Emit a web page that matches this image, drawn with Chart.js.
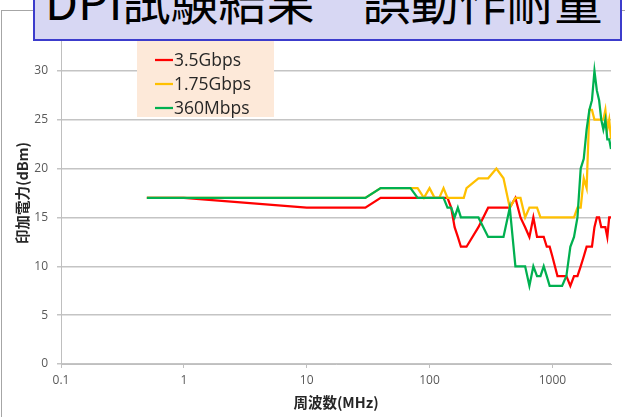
<!DOCTYPE html>
<html><head><meta charset="utf-8">
<script src="https://cdn.jsdelivr.net/npm/chart.js@4"></script>
<style>
html,body{margin:0;padding:0;background:#fff;}
#wrap{position:relative;width:625px;height:417px;overflow:hidden;background:#fff;}
#c{position:absolute;left:0;top:0;}
#frame{position:absolute;left:1px;top:10px;width:700px;height:500px;border-left:1px solid #a6a6a6;border-top:1px solid #a6a6a6;pointer-events:none;}
#title{position:absolute;left:33px;top:-20px;width:585px;height:57px;border:2px solid #3c3ccc;background:#d7d7f3;overflow:hidden;}
#title span{position:absolute;left:10px;top:-7px;font-family:"Noto Sans CJK JP";font-size:48px;line-height:48px;color:#000;white-space:pre;}
</style></head>
<body><div id="wrap"><canvas id="c" width="625" height="417"></canvas><div id="frame"></div><div id="title"><span>DPI試験結果　誤動作耐量</span></div></div>
<script>
const freqMHz = [0.5, 1, 10, 30,
  40, 50, 60, 70, 80, 90, 100, 110, 120, 130, 140, 150, 160, 170, 180, 190, 200,
  250, 300, 350, 400, 450, 500, 550, 600, 650, 700, 750, 800, 850, 900, 950, 1000,
  1100, 1200, 1300, 1400, 1500, 1600, 1700, 1800, 1900, 2000, 2100, 2200, 2300, 2400, 2500, 2600, 2700, 2800, 2900, 3000];
const seriesNames = ['3.5Gbps', '1.75Gbps', '360Mbps'];
const red3_5G = [17, 17, 16, 16,
  17, 17, 17, 17, 17, 17, 17, 17, 17, 17, 17, 16, 14, 13, 12, 12, 12,
  14, 16, 16, 16, 16, 17, 15, 14, 13, 15, 13, 13, 13, 12, 12, 11,
  9, 9, 9, 8, 9, 9, 10, 11, 12, 12, 12, 14, 15, 15, 14, 14, 14, 13, 15, 15];
const yellow1_75G = [17, 17, 17, 17,
  18, 18, 18, 18, 18, 17, 18, 17, 17, 18, 17, 17, 17, 17, 17, 17, 18,
  19, 19, 20, 19, 16, 17, 17, 15, 16, 16, 16, 15, 15, 15, 15, 15,
  15, 15, 15, 15, 15, 16, 16, 19, 18, 26, 26, 25, 25, 25, 25, 25, 26, 24, 25, 23];
const green360M = [17, 17, 17, 17,
  18, 18, 18, 18, 17, 17, 17, 17, 17, 17, 16, 16, 15, 16, 15, 15, 15,
  15, 13, 13, 13, 16, 10, 10, 10, 8, 10, 9, 9, 10, 9, 8, 8,
  8, 8, 9, 12, 13, 15, 20, 21, 24, 26, 27, 30, 28, 27, 25, 24, 25, 23, 23, 22];
const xTickValues = [0.1, 1, 10, 100, 1000];
const yTickStep = 5;
const xTitle = '周波数(MHz)';
const yTitle = '印加電力(dBm)';
const colors = ['#ff0000', '#ffc000', '#00b050'];

const allSeries = [red3_5G, yellow1_75G, green360M];
const datasets = allSeries.map((vals, k) => ({
  label: seriesNames[k],
  data: freqMHz.map((f, i) => ({x: f, y: vals[i]})),
  borderColor: colors[k],
  backgroundColor: colors[k],
  borderWidth: 2.25,
  pointRadius: 0,
  showLine: true,
  fill: false,
  tension: 0,
  order: 2 - k
}));

const legendPlugin = {
  id: 'boxLegend',
  afterDraw(chart) {
    const ctx = chart.ctx;
    ctx.save();
    ctx.fillStyle = '#fde9d9';
    ctx.fillRect(137, 30, 137, 87);
    ctx.font = '17.5px "Open Sans"';
    ctx.textBaseline = 'middle';
    const ys = [60, 84, 108];
    chart.data.datasets.forEach((ds, i) => {
      ctx.strokeStyle = ds.borderColor;
      ctx.lineWidth = 2.25;
      ctx.beginPath();
      ctx.moveTo(155, ys[i]);
      ctx.lineTo(173, ys[i]);
      ctx.stroke();
      ctx.fillStyle = '#262626';
      ctx.fillText(ds.label, 174, ys[i] + 1);
    });
    ctx.restore();
  }
};

new Chart(document.getElementById('c'), {
  type: 'scatter',
  data: {datasets},
  plugins: [legendPlugin],
  options: {
    responsive: false,
    animation: false,
    devicePixelRatio: 1,
    layout: {padding: {left: 0, right: 14, top: 22, bottom: 0}},
    plugins: {legend: {display: false}, tooltip: {enabled: false}},
    scales: {
      x: {
        type: 'logarithmic',
        min: 0.1, max: 3000,
        afterBuildTicks(scale) { scale.ticks = xTickValues.map(v => ({value: v})); },
        afterFit(scale) { scale.height = 53; },
        ticks: {
          autoSkip: false, maxRotation: 0,
          color: '#595959', font: {family: 'Open Sans', size: 12}, padding: 5,
          callback: (v) => String(v)
        },
        grid: {drawOnChartArea: false, drawTicks: true, tickLength: 4, color: '#bfbfbf', lineWidth: 1},
        border: {display: true, color: '#bfbfbf', width: 1},
        title: {display: true, text: xTitle, color: '#262626', font: {family: 'Noto Sans CJK JP', size: 14.5, weight: 'bold'}, padding: {top: 0, bottom: 6}}
      },
      y: {
        min: 0, max: 35,
        afterFit(scale) { scale.width = 61; },
        ticks: {stepSize: yTickStep, color: '#595959', font: {family: 'Open Sans', size: 12}, padding: 9},
        grid: {color: '#c4c4c4', lineWidth: 1.5, tickLength: 4},
        border: {display: true, color: '#bfbfbf', width: 1},
        title: {display: true, text: yTitle, color: '#262626', font: {family: 'Noto Sans CJK JP', size: 14.5, weight: 'bold'}, padding: {top: 14, bottom: 0}}
      }
    }
  }
});
</script></body></html>
